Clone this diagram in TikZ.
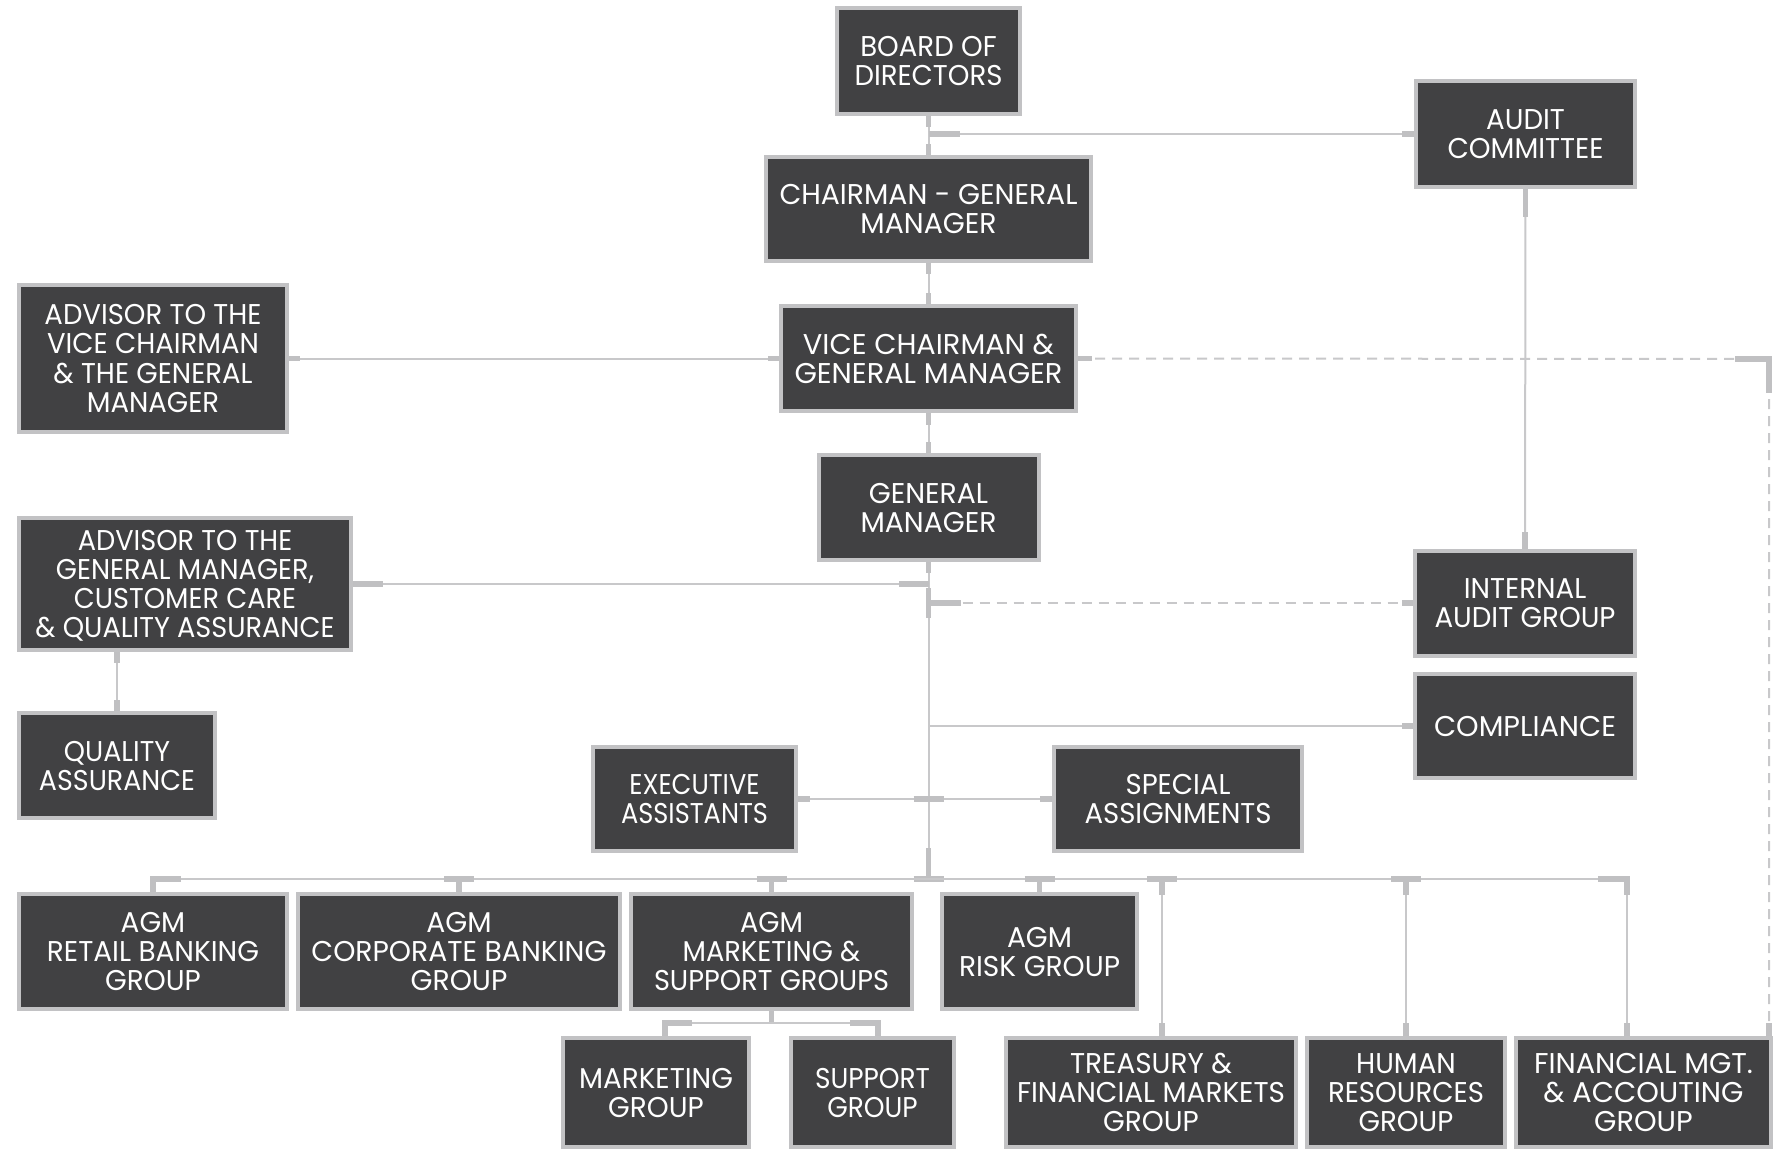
\documentclass[tikz,border=0pt]{standalone}
\usepackage{fontspec}
\usepackage{graphicx}
\setmainfont{Poppins}
\usetikzlibrary{calc}
\definecolor{boxc}{RGB}{65,65,67}
\definecolor{bordc}{RGB}{194,194,196}
\definecolor{linec}{RGB}{200,200,202}
\definecolor{stubc}{RGB}{192,192,194}
\newcommand\bt[2]{\raisebox{0pt}[\dimexpr\height+4.2pt\relax][\depth]{\resizebox{#1pt}{\height}{\begin{tabular}{@{}c@{}}#2\end{tabular}}}}
\begin{document}
\begin{tikzpicture}[x=0.5pt,y=-0.5pt,
  box/.style={draw=bordc, line width=2pt, fill=boxc, text=white, inner sep=0pt,
    font=\fontsize{14.3}{14.5}\selectfont},
  ln/.style={draw=linec, line width=1pt},
  dsh/.style={draw=linec, line width=1pt, dash pattern=on 5pt off 3.5pt},
  stb/.style={draw=stubc, line width=2.6pt, line join=miter}]
\useasboundingbox (0,0) rectangle (1782,1150);
\fill[white] (0,0) rectangle (1782,1150);

% boxes
\node[box, minimum width=91.5pt, minimum height=53pt] (board) at (928.5,61) {\bt{74}{BOARD OF\\DIRECTORS}};
\node[box, minimum width=109.5pt, minimum height=53pt] (audit) at (1525.5,134) {\bt{78}{AUDIT\\COMMITTEE}};
\node[box, minimum width=162.5pt, minimum height=52pt] (chair) at (928.5,209) {\bt{149}{CHAIRMAN - GENERAL\\MANAGER}};
\node[box, minimum width=134pt, minimum height=73.5pt] (advVC) at (153,358.5) {\bt{108.5}{ADVISOR TO THE\\VICE CHAIRMAN\\\& THE GENERAL\\MANAGER}};
\node[box, minimum width=147.5pt, minimum height=52.5pt] (vc) at (928.5,358.5) {\bt{134}{VICE CHAIRMAN \&\\GENERAL MANAGER}};
\node[box, minimum width=110pt, minimum height=52.5pt] (gm) at (928.5,507.5) {\bt{68}{GENERAL\\MANAGER}};
\node[box, minimum width=166pt, minimum height=66pt] (advGM) at (185,584) {\bt{149.5}{ADVISOR TO THE\\GENERAL MANAGER,\\CUSTOMER CARE\\\& QUALITY ASSURANCE}};
\node[box, minimum width=110pt, minimum height=52.5pt] (ia) at (1525,603) {\bt{90.5}{INTERNAL\\AUDIT GROUP}};
\node[box, minimum width=110pt, minimum height=52pt] (comp) at (1525,726) {\bt{91}{COMPLIANCE}};
\node[box, minimum width=98pt, minimum height=52.5pt] (qa) at (117,765.5) {\bt{78}{QUALITY\\ASSURANCE}};
\node[box, minimum width=101.5pt, minimum height=52pt] (exec) at (694.5,799) {\bt{73.5}{EXECUTIVE\\ASSISTANTS}};
\node[box, minimum width=124pt, minimum height=52pt] (spec) at (1178,799) {\bt{93.5}{SPECIAL\\ASSIGNMENTS}};
\node[box, minimum width=134pt, minimum height=57.5pt] (retail) at (153,951.5) {\bt{106}{AGM\\RETAIL BANKING\\GROUP}};
\node[box, minimum width=161pt, minimum height=57.5pt] (corp) at (459,951.5) {\bt{147.5}{AGM\\CORPORATE BANKING\\GROUP}};
\node[box, minimum width=140.5pt, minimum height=57.5pt] (mkt) at (771.5,951.5) {\bt{117.5}{AGM\\MARKETING \&\\SUPPORT GROUPS}};
\node[box, minimum width=97.5pt, minimum height=57.5pt] (risk) at (1039.5,951.5) {\bt{80.5}{AGM\\RISK GROUP}};
\node[box, minimum width=93pt, minimum height=54.5pt] (mktg) at (656,1092.5) {\bt{77}{MARKETING\\GROUP}};
\node[box, minimum width=81.5pt, minimum height=54.5pt] (supp) at (872.5,1092.5) {\bt{57.5}{SUPPORT\\GROUP}};
\node[box, minimum width=145pt, minimum height=54.5pt] (treas) at (1151,1092.5) {\bt{134}{TREASURY \&\\FINANCIAL MARKETS\\GROUP}};
\node[box, minimum width=99pt, minimum height=54.5pt] (hr) at (1406,1092.5) {\bt{78}{HUMAN\\RESOURCES\\GROUP}};
\node[box, minimum width=127.5pt, minimum height=54.5pt] (fin) at (1643.5,1092.5) {\bt{109.5}{FINANCIAL MGT.\\\& ACCOUTING\\GROUP}};

% junction coordinates
\coordinate (busj) at (928.5,879);
\coordinate (dcorner) at (1769,359);
\coordinate (tq) at (1162,879);
\coordinate (fq) at (1627,879);
\coordinate (mq) at (665,1023);
\coordinate (sq) at (878,1023);

% board - chairman
\draw[ln] (board.south) -- (chair.north);
\draw[stb] (board.south) -- ++(0,11);
\draw[stb] (chair.north) -- ++(0,-11);
% audit committee
\draw[ln] (board.south |- audit.west) -- (audit.west);
\draw[stb] (board.south |- audit.west) -- ++(31,0);
\draw[stb] (audit.west) -- ++(-12,0);
% chairman - vice chairman
\draw[ln] (chair.south) -- (vc.north);
\draw[stb] (chair.south) -- ++(0,11);
\draw[stb] (vc.north) -- ++(0,-11);
% advisor VC - vice chairman
\draw[ln] (advVC.east) -- (vc.west);
\draw[stb] (advVC.east) -- ++(11,0);
\draw[stb] (vc.west) -- ++(-11,0);
% vice chairman - GM
\draw[ln] (vc.south) -- (gm.north);
\draw[stb] (vc.south) -- ++(0,12);
\draw[stb] (gm.north) -- ++(0,-11);
% dashed vice chairman - financial
\draw[dsh] (vc.east) -- (dcorner) -- (dcorner |- fin.north);
\draw[stb] (vc.east) -- ++(14,0);
\draw[stb] ($(dcorner)+(-34,0)$) -- (dcorner) -- ++(0,34);
\draw[stb] (dcorner |- fin.north) -- ++(0,-13);
% audit committee - internal audit
\draw[ln] (audit.south) -- (ia.north);
\draw[stb] (audit.south) -- ++(0,28);
\draw[stb] (ia.north) -- ++(0,-17);
% GM trunk
\draw[ln] (gm.south) -- (busj);
\draw[stb] (gm.south) -- ++(0,11);
\draw[stb] ($(busj)+(0,-31)$) -- (busj);
\draw[stb] ($(busj)+(-15,0)$) -- ++(30,0);
% advisor GM
\draw[ln] (advGM.east) -- (advGM.east -| gm.south);
\draw[stb] (advGM.east) -- ++(30,0);
\draw[stb] (advGM.east -| gm.south) -- ++(-30,0);
% internal audit dashed
\draw[dsh] (ia.west -| gm.south) -- (ia.west);
\draw[stb] ($(ia.west -| gm.south)+(0,-15)$) -- ++(0,30);
\draw[stb] (ia.west -| gm.south) -- ++(32,0);
\draw[stb] (ia.west) -- ++(-11,0);
% compliance
\draw[ln] (comp.west -| gm.south) -- (comp.west);
\draw[stb] (comp.west) -- ++(-11,0);
% executive / special
\draw[ln] (exec.east) -- (spec.west);
\draw[stb] (exec.east) -- ++(12,0);
\draw[stb] (spec.west) -- ++(-12,0);
\draw[stb] ($(exec.east -| gm.south)+(-15,0)$) -- ++(30,0);
% advisor GM - quality assurance
\draw[ln] (qa.north) -- (qa.north |- advGM.south);
\draw[stb] (qa.north) -- ++(0,-11);
\draw[stb] (qa.north |- advGM.south) -- ++(0,11);
% bus
\draw[ln] (retail.north |- busj) -- (fq);
\draw[stb] ($(retail.north |- busj)+(28,0)$) -- (retail.north |- busj) -- (retail.north);
\draw[stb] ($(corp.north |- busj)+(-15,0)$) -- ++(30,0);
\draw[stb] (corp.north |- busj) -- (corp.north);
\draw[stb] ($(mkt.north |- busj)+(-15,0)$) -- ++(30,0);
\draw[stb] (mkt.north |- busj) -- (mkt.north);
\draw[stb] ($(risk.north |- busj)+(-15,0)$) -- ++(30,0);
\draw[stb] (risk.north |- busj) -- (risk.north);
% treasury
\draw[ln] (tq) -- (tq |- treas.north);
\draw[stb] ($(tq)+(-15,0)$) -- ++(30,0);
\draw[stb] (tq) -- ++(0,16);
\draw[stb] (tq |- treas.north) -- ++(0,-13);
% human resources
\draw[ln] (hr.north |- busj) -- (hr.north);
\draw[stb] ($(hr.north |- busj)+(-15,0)$) -- ++(30,0);
\draw[stb] (hr.north |- busj) -- ++(0,16);
\draw[stb] (hr.north) -- ++(0,-13);
% financial
\draw[ln] (fq) -- (fq |- fin.north);
\draw[stb] ($(fq)+(-29,0)$) -- (fq) -- ++(0,16);
\draw[stb] (fq |- fin.north) -- ++(0,-13);
% marketing & support
\draw[ln] (mkt.south) -- (mkt.south |- mq);
\draw[stb] (mkt.south) -- (mkt.south |- mq);
\draw[ln] (mq) -- (sq);
\draw[stb] ($(mq)+(27,0)$) -- (mq) -- (mq |- mktg.north);
\draw[stb] ($(sq)+(-28,0)$) -- (sq) -- (sq |- supp.north);
\end{tikzpicture}
\end{document}
